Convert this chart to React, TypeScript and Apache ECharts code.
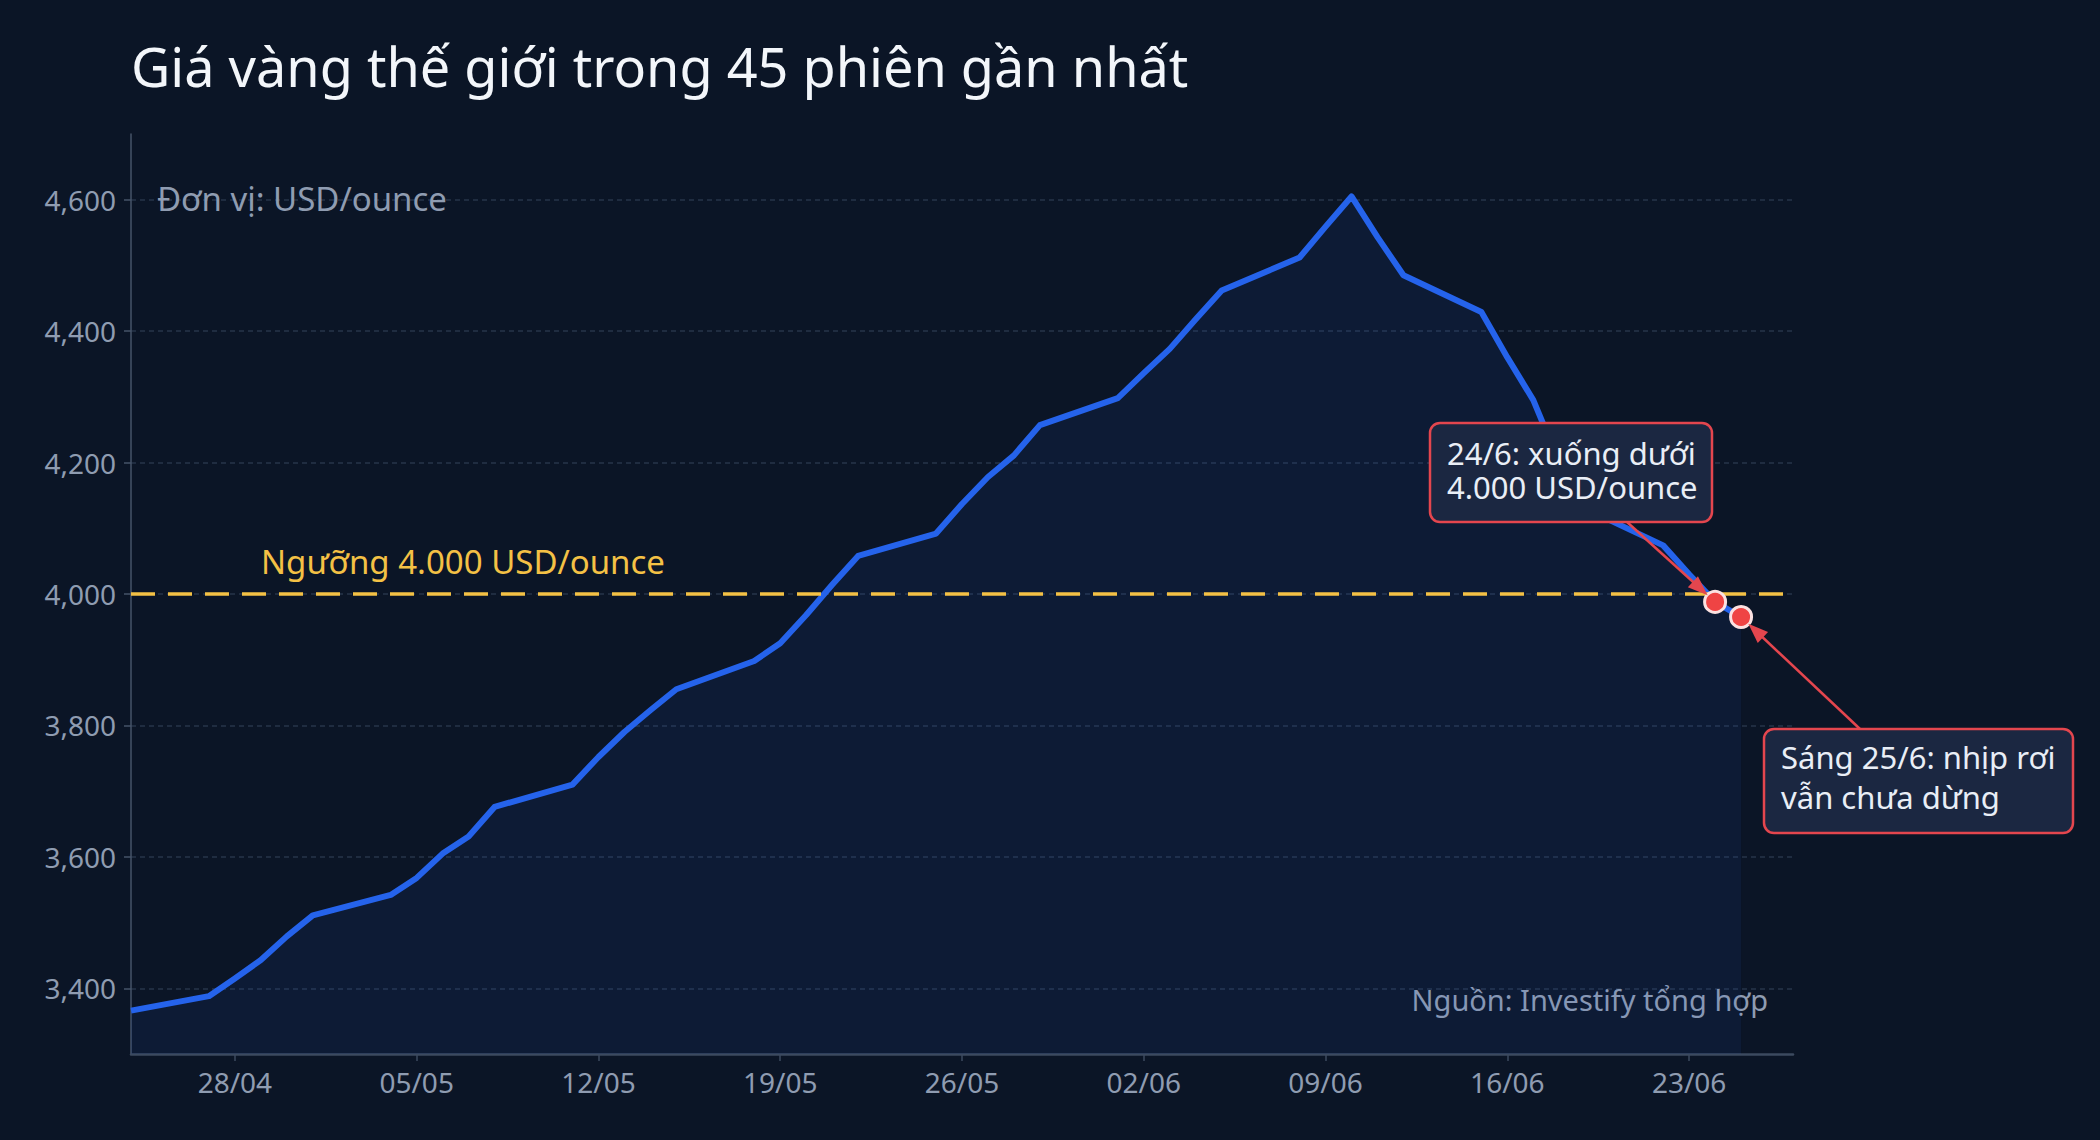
import { useEffect, useRef } from 'react'
import * as echarts from 'echarts'

// 45 phiên giao dịch (dd/mm), giá vàng USD/ounce
const sessionDates = [
  '24/04', '27/04', '28/04', '29/04', '30/04',
  '01/05', '04/05', '05/05', '06/05', '07/05', '08/05',
  '11/05', '12/05', '13/05', '14/05', '15/05',
  '18/05', '19/05', '20/05', '21/05', '22/05',
  '25/05', '26/05', '27/05', '28/05', '29/05',
  '01/06', '02/06', '03/06', '04/06', '05/06',
  '08/06', '09/06', '10/06', '11/06', '12/06',
  '15/06', '16/06', '17/06', '18/06', '19/06',
  '22/06', '23/06', '24/06', '25/06',
]
const goldPrices = [
  3366, 3388, 3415, 3443, 3479,
  3511, 3542, 3568, 3605, 3631, 3676,
  3710, 3752, 3790, 3823, 3855,
  3898, 3925, 3968, 4014, 4058,
  4092, 4137, 4178, 4211, 4257,
  4298, 4336, 4373, 4418, 4462,
  4512, 4559, 4605, 4543, 4485,
  4429, 4360, 4295, 4200, 4130,
  4074, 4030, 3988, 3965,
]
const xTickLabels = ['28/04', '05/05', '12/05', '19/05', '26/05', '02/06', '09/06', '16/06', '23/06']
const xRange = ['24/04', '27/06']
const yTickValues = [3400, 3600, 3800, 4000, 4200, 4400, 4600]
const yRange = [3300, 4700]
const thresholdValue = 4000
const highlightDates = ['24/06', '25/06']

const titleText = 'Giá vàng thế giới trong 45 phiên gần nhất'
const unitText = 'Đơn vị: USD/ounce'
const sourceText = 'Nguồn: Investify tổng hợp'
const thresholdText = 'Ngưỡng 4.000 USD/ounce'
const noteTexts = ['24/6: xuống dưới\n4.000 USD/ounce', 'Sáng 25/6: nhịp rơi\nvẫn chưa dừng']

const YEAR = 2026
const DAY = 86400000
const FONT = '"Noto Sans", "DejaVu Sans", sans-serif'
const BG = '#0b1526'
const BLUE = '#2563eb'
const GOLD = '#f4c145'
const RED = '#e4464e'
const MUTED = '#8f9cb1'

const toTime = (s: string) => {
  const [d, m] = s.split('/').map(Number)
  return Date.UTC(YEAR, m - 1, d)
}
const originTime = toTime(xTickLabels[0])
const dayOffset = (s: string) => Math.round((toTime(s) - originTime) / DAY)
const offsetLabel = (v: number) => {
  const t = new Date(originTime + Math.round(v) * DAY)
  const dd = String(t.getUTCDate()).padStart(2, '0')
  const mm = String(t.getUTCMonth() + 1).padStart(2, '0')
  return `${dd}/${mm}`
}

// vị trí hộp chú thích (px trên khung 2100x1140)
const noteBoxes = [
  { x: 1430, y: 423, w: 282, h: 99, lineHeight: 34, dy: -3, anchor: [1627, 522] },
  { x: 1764, y: 729, w: 309, h: 104, lineHeight: 40, dy: -4, anchor: [1860, 729] },
]

function arrow(from: number[], to: number[], gap: number) {
  const dx = to[0] - from[0]
  const dy = to[1] - from[1]
  const len = Math.hypot(dx, dy)
  const ux = dx / len
  const uy = dy / len
  const tip = [to[0] - ux * gap, to[1] - uy * gap]
  const headL = 20
  const headW = 15
  const base = [tip[0] - ux * headL, tip[1] - uy * headL]
  return [
    {
      type: 'line',
      z: 100,
      shape: { x1: from[0], y1: from[1], x2: base[0] + ux * 3, y2: base[1] + uy * 3 },
      style: { stroke: RED, lineWidth: 2.5 },
    },
    {
      type: 'polygon',
      z: 100,
      shape: {
        points: [
          tip,
          [base[0] - (uy * headW) / 2, base[1] + (ux * headW) / 2],
          [base[0] + (uy * headW) / 2, base[1] - (ux * headW) / 2],
        ],
      },
      style: { fill: RED },
    },
  ]
}

export default function App() {
  const containerRef = useRef<HTMLDivElement | null>(null)

  useEffect(() => {
    document.body.style.margin = '0'
    document.body.style.background = BG
    if (!containerRef.current) {
      return
    }

    const chart = echarts.init(containerRef.current, undefined, { renderer: 'svg' })

    const axisLabel = { color: MUTED, fontSize: 28, fontFamily: FONT }

    chart.setOption({
      animation: false,
      backgroundColor: BG,
      textStyle: { fontFamily: FONT },
      grid: { left: 131, right: 307, top: 134, bottom: 86 },
      xAxis: {
        type: 'value',
        min: dayOffset(xRange[0]),
        max: dayOffset(xRange[1]),
        minInterval: 7,
        maxInterval: 7,
        axisLine: { onZero: false, lineStyle: { color: '#3c4a5f', width: 2.5 } },
        axisTick: { length: 7, lineStyle: { color: '#3c4a5f', width: 1.5 }, customValues: xTickLabels.map(dayOffset) },
        axisLabel: {
          ...axisLabel,
          margin: 14,
          customValues: xTickLabels.map(dayOffset),
          formatter: (v: number) => offsetLabel(v),
        },
        splitLine: { show: false },
      },
      yAxis: {
        type: 'value',
        min: yRange[0],
        max: yRange[1],
        minInterval: 200,
        maxInterval: 200,
        axisLine: { show: true, onZero: false, lineStyle: { color: '#465368', width: 1.5 } },
        axisTick: { show: true, length: 7, lineStyle: { color: '#465368', width: 1.5 }, customValues: yTickValues },
        axisLabel: {
          ...axisLabel,
          margin: 15,
          customValues: yTickValues,
          formatter: (v: number) => v.toLocaleString('en-US'),
        },
        splitLine: {
          show: true,
          lineStyle: { color: '#27344a', width: 1.5, type: [5, 4] },
        },
      },
      series: [
        {
          type: 'line',
          z: 1,
          data: [],
          markLine: {
            silent: true,
            symbol: ['none', 'none'],
            label: { show: false },
            lineStyle: { color: GOLD, width: 3.5, type: [24, 13] },
            data: [{ yAxis: thresholdValue }],
          },
        },
        {
          type: 'line',
          z: 2,
          data: sessionDates.map((d, i) => [dayOffset(d), goldPrices[i]]),
          symbol: 'none',
          lineStyle: { color: BLUE, width: 6, join: 'round' },
          areaStyle: { color: 'rgba(37,99,235,0.12)', origin: 'start' },
        },
        {
          type: 'scatter',
          z: 5,
          data: highlightDates.map((d) => [dayOffset(d), goldPrices[sessionDates.indexOf(d)]]),
          symbolSize: 21,
          itemStyle: { color: '#ef4444', borderColor: '#fbe1e1', borderWidth: 3, opacity: 1 },
        },
      ],
    })

    const px = (d: string, v: number) => chart.convertToPixel({ gridIndex: 0 }, [dayOffset(d), v]) as number[]
    const thresholdY = px(xTickLabels[0], thresholdValue)[1]
    const points = highlightDates.map((d) => px(d, goldPrices[sessionDates.indexOf(d)]))

    const graphics: any[] = [
      {
        type: 'text',
        x: 131,
        y: 66,
        style: { text: titleText, fill: '#f3f6fa', fontSize: 54, fontFamily: FONT, verticalAlign: 'middle' },
      },
      {
        type: 'text',
        x: 157,
        y: 198,
        style: { text: unitText, fill: MUTED, fontSize: 33, fontFamily: FONT, verticalAlign: 'middle' },
      },
      {
        type: 'text',
        x: 1768,
        y: 999,
        style: { text: sourceText, fill: MUTED, fontSize: 29, fontFamily: FONT, align: 'right', verticalAlign: 'middle' },
      },
      {
        type: 'text',
        x: 261,
        y: thresholdY - 33,
        style: { text: thresholdText, fill: GOLD, fontSize: 33, fontFamily: FONT, verticalAlign: 'middle' },
      },
    ]

    noteBoxes.forEach((b, i) => {
      graphics.push(...arrow(b.anchor, points[i], 10))
      graphics.push({
        type: 'rect',
        z: 101,
        shape: { x: b.x, y: b.y, width: b.w, height: b.h, r: 10 },
        style: { fill: '#1b2741', stroke: RED, lineWidth: 2.5 },
      })
      graphics.push({
        type: 'text',
        z: 102,
        x: b.x + 17,
        y: b.y + b.h / 2 + b.dy,
        style: {
          text: noteTexts[i],
          fill: '#e9eef6',
          fontSize: 31,
          fontFamily: FONT,
          lineHeight: b.lineHeight,
          verticalAlign: 'middle',
        },
      })
    })

    chart.setOption({ graphic: graphics })

    return () => {
      chart.dispose()
    }
  }, [])

  return <div ref={containerRef} style={{ width: 2100, height: 1140 }} />
}
